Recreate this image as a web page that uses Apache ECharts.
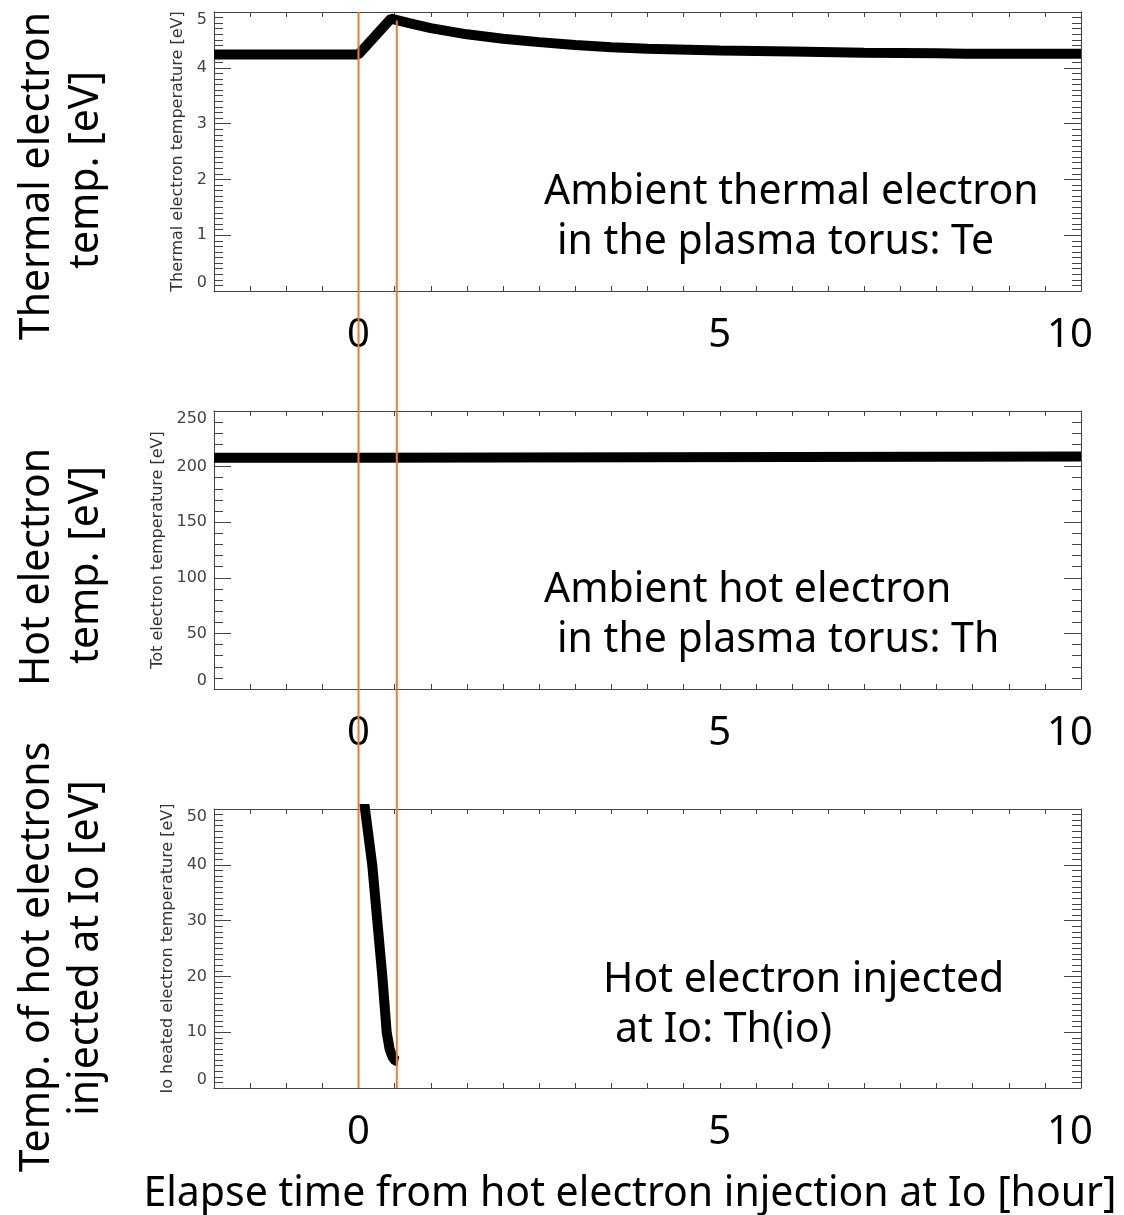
<!DOCTYPE html>
<html>
<head>
<meta charset="utf-8">
<script src="https://cdn.jsdelivr.net/npm/echarts@6/dist/echarts.min.js"></script>
<style>
  html, body { margin: 0; padding: 0; background: #fff; }
  #main { width: 1124px; height: 1215px; }
</style>
</head>
<body>
<div id="main"></div>
<script>
// ambient thermal electron temperature Te [eV]
const teTime = [-2, 0, 0.45, 0.7, 1.0, 1.5, 2.0, 2.5, 3.0, 3.5, 4.0, 5.0, 6.0, 7.0, 8.0, 8.4, 10]
const teVal = [4.24, 4.24, 4.88, 4.8, 4.71, 4.6, 4.52, 4.46, 4.41, 4.37, 4.34, 4.31, 4.29, 4.27, 4.26, 4.25, 4.25]

// ambient hot electron temperature Th [eV]
const thTime = [-2, 0.05, 0.05, 10]
const thVal = [208, 208, 209, 209]

// hot electrons injected at Io, Th(io) [eV]
const thioTime = [0.06, 0.08, 0.19, 0.26, 0.33, 0.39, 0.43, 0.47, 0.51, 0.55]
const thioVal = [53, 51, 40, 30, 20, 10, 7, 5.6, 4.9, 4.8]

// markers (orange lines) in hours
const markerTime = [0, 0.53]
const markerTop = [1, 0.992]

const xTicks = [0, 5, 10]

const zip = (a, b) => a.map((v, i) => [v, b[i]])

const bigFont = '"Noto Sans", "Noto Sans CJK JP", sans-serif'
const smallFont = '"DejaVu Sans", sans-serif'
const boxColor = '#444'
const bigSize = 41

const chart = echarts.init(document.getElementById('main'))

const panels = [
  { top: 12, height: 279, max: 5, interval: 1, minor: 10, name: 'Thermal electron temperature [eV]', gap: 28 },
  { top: 411, height: 278, max: 250, interval: 50, minor: 5, name: 'Tot electron temperature [eV]', gap: 48 },
  { top: 809, height: 279, max: 50, interval: 10, minor: 10, name: 'Io heated electron temperature [eV]', gap: 36 }
]

const grid = panels.map(p => ({ left: 214, right: 43, top: p.top, height: p.height }))
grid.push({ left: 214, right: 43, top: 12, height: 1076 })

const xAxis = []
const yAxis = []
panels.forEach((p, i) => {
  const common = {
    type: 'value', gridIndex: i, min: -2, max: 10, interval: 0.5,
    axisLine: { show: true, onZero: false, lineStyle: { color: boxColor } },
    axisTick: { show: true, inside: true, length: 5, lineStyle: { color: boxColor } },
    splitLine: { show: false }
  }
  xAxis.push(Object.assign({}, common, {
    position: 'bottom',
    axisLabel: {
      show: true, margin: 25, fontFamily: bigFont, fontSize: 40, color: '#000',
      formatter: v => xTicks.includes(v) ? (v === 10 ? '{r|' + v + '}' : String(v)) : '',
      rich: { r: { fontFamily: bigFont, fontSize: 40, color: '#000', padding: [0, 22, 0, 0] } }
    }
  }))
  xAxis.push(Object.assign({}, common, { position: 'top', axisLabel: { show: false } }))

  const yCommon = {
    type: 'value', gridIndex: i, min: 0, max: p.max, interval: p.interval,
    axisLine: { show: true, onZero: false, lineStyle: { color: boxColor } },
    axisTick: { show: true, inside: true, length: 17, lineStyle: { color: boxColor } },
    minorTick: { show: true, splitNumber: p.minor, length: 9, lineStyle: { color: boxColor } },
    splitLine: { show: false },
    minorSplitLine: { show: false }
  }
  yAxis.push(Object.assign({}, yCommon, {
    position: 'left',
    name: p.name, nameLocation: 'middle', nameRotate: 90, nameGap: p.gap,
    nameTextStyle: { fontFamily: smallFont, fontSize: 16, color: '#333' },
    axisLabel: {
      show: true, margin: 7, fontFamily: smallFont, fontSize: 16, color: '#444',
      verticalAlignMaxLabel: 'top', verticalAlignMinLabel: 'bottom'
    }
  }))
  yAxis.push(Object.assign({}, yCommon, { position: 'right', axisLabel: { show: false } }))
})
// overlay axes for the orange markers spanning all panels
xAxis.push({ type: 'value', gridIndex: 3, min: -2, max: 10, show: false })
yAxis.push({ type: 'value', gridIndex: 3, min: 0, max: 1, show: false })

const thick = { color: '#000', width: 10 }
const series = [
  { type: 'line', xAxisIndex: 0, yAxisIndex: 0, data: zip(teTime, teVal), showSymbol: false, lineStyle: thick },
  { type: 'line', xAxisIndex: 2, yAxisIndex: 2, data: zip(thTime, thVal), showSymbol: false, lineStyle: thick },
  { type: 'line', xAxisIndex: 4, yAxisIndex: 4, data: zip(thioTime, thioVal), showSymbol: false, lineStyle: thick }
]
markerTime.forEach((t, i) => {
  series.push({
    type: 'line', xAxisIndex: 6, yAxisIndex: 6, z: 10, showSymbol: false, clip: false,
    data: [[t, 0], [t, markerTop[i]]],
    lineStyle: { color: '#ED7D31', width: 2 }
  })
})

const txt = (x, y, text) => ({
  type: 'text', x: x, y: y,
  style: { text: text, fontFamily: bigFont, fontSize: bigSize, fill: '#000', textAlign: 'left', textVerticalAlign: 'middle' }
})
const vtxt = (x, y, text) => ({
  type: 'text', x: x, y: y, rotation: Math.PI / 2,
  style: { text: text, fontFamily: bigFont, fontSize: bigSize, fill: '#000', textAlign: 'center', textVerticalAlign: 'middle' }
})

chart.setOption({
  animation: false,
  grid: grid,
  xAxis: xAxis,
  yAxis: yAxis,
  series: series,
  graphic: [
    txt(544, 192, 'Ambient thermal electron'),
    txt(557, 242, 'in the plasma torus: Te'),
    txt(544, 590, 'Ambient hot electron'),
    txt(557, 640, 'in the plasma torus: Th'),
    txt(603, 980, 'Hot electron injected'),
    txt(615, 1030, 'at Io: Th(io)'),
    vtxt(37, 176, 'Thermal electron'),
    vtxt(86, 170, 'temp. [eV]'),
    vtxt(37, 567, 'Hot electron'),
    vtxt(86, 565, 'temp. [eV]'),
    vtxt(37, 957, 'Temp. of hot electrons'),
    vtxt(86, 948, 'injected at Io [eV]'),
    {
      type: 'text', x: 630, y: 1194,
      style: { text: 'Elapse time from hot electron injection at Io [hour]', fontFamily: bigFont, fontSize: bigSize, fill: '#000', textAlign: 'center', textVerticalAlign: 'middle' }
    }
  ]
})
</script>
</body>
</html>
